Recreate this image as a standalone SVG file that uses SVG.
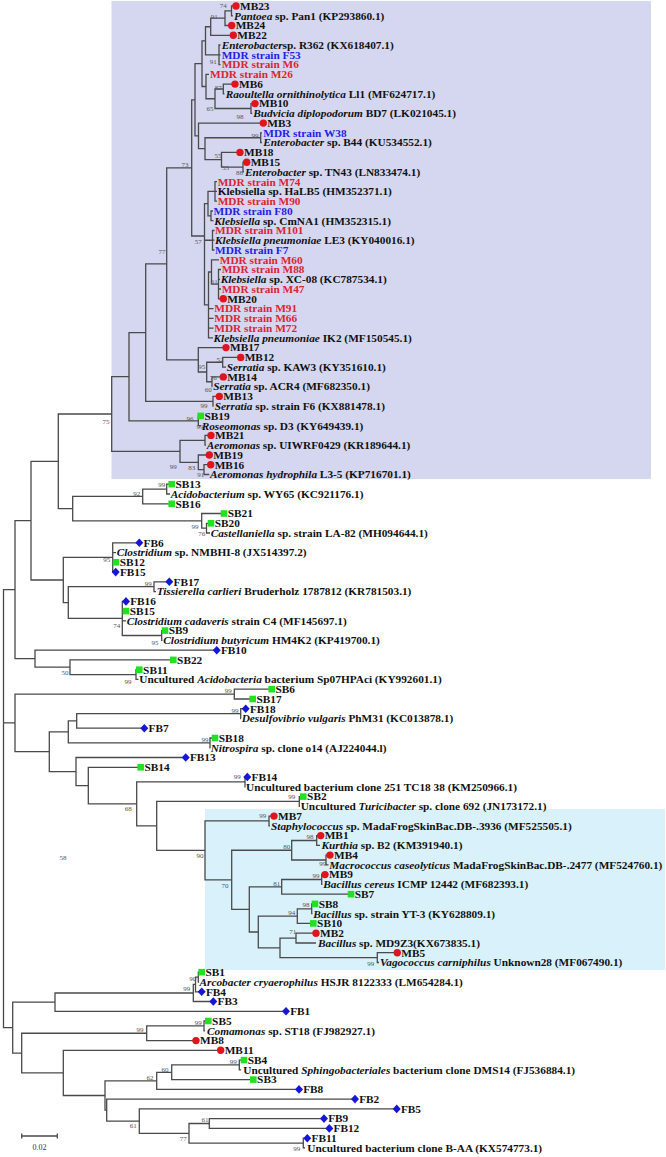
<svg xmlns="http://www.w3.org/2000/svg" xmlns:xlink="http://www.w3.org/1999/xlink" width="666" height="1157" viewBox="0 0 666 1157">
<style>
.t{font-family:"Liberation Serif","Times New Roman",serif;font-weight:bold;font-size:11.3px;fill:#111}
.i{font-style:italic}
.r{fill:#de2332}
.b{fill:#1e1ee6}
.bs{font-family:"Liberation Serif","Times New Roman",serif;font-size:7px;fill:#555;text-anchor:middle}
.e{fill:none;stroke:#4a4a4a;stroke-width:1.3}
.mc{fill:#e1141e}
.ms{fill:#22e022}
.md{fill:#1616d6}
</style>
<defs>
<circle id="c" r="3.7"/>
<rect id="s" x="-3.3" y="-3.3" width="6.6" height="6.6"/>
<path id="d" d="M0,-4.3 L4,0 0,4.3 -4,0Z"/>
</defs>
<rect x="0" y="0" width="666" height="1157" fill="#fff"/>
<g id="highlight-enterobacteria"><rect x="111.5" y="1" width="539.5" height="478" fill="#d5d7f0"/></g>
<g id="highlight-firmicutes"><rect x="205" y="809" width="460" height="161" fill="#d9f1fa"/></g>
<g id="connectors" class="e">
<path d="M236,6 H231.5 V15.8 H233"/>
<path d="M231.5,10.9 H225 V25.5 H231.7"/>
<path d="M225,18.2 H210.7 V35.3 H233.3"/>
<path d="M220.5,45 H219 V64.6 H220.5 M219,54.8 H220.5"/>
<path d="M210.7,26.75 H205.5 V54.8 H219"/>
<path d="M235,84.1 H223.3 V93.8 H224.5"/>
<path d="M255,103.6 H251 V113.4 H252.3"/>
<path d="M223.3,89 H215 V108.5 H251"/>
<path d="M209,74.3 H206 V98.75 H215"/>
<path d="M205.5,40.8 H202 V86.5 H206"/>
<path d="M262,132.9 H260.7 V142.6 H262"/>
<path d="M246.7,162.2 H243 V171.9 H244"/>
<path d="M240,152.4 H221.5 V167.05 H243"/>
<path d="M260.7,137.75 H205 V159.7 H221.5"/>
<path d="M263.3,123.1 H198.5 V148.7 H205"/>
<path d="M202,63.65 H195 V135.9 H198.5"/>
<path d="M217,181.7 H215 V201.2 H217 M215,191.4 H217"/>
<path d="M213,211 H211 V220.7 H213.5"/>
<path d="M215,191.45 H208 V215.85 H211"/>
<path d="M214.5,230.5 H212.5 V250 H214.5 M212.5,240.2 H214.5"/>
<path d="M221,269.5 H218.5 V298.8 H223.3 M218.5,279.3 H220 M218.5,289 H221"/>
<path d="M219,259.8 H211.5 V284.15 H218.5"/>
<path d="M211.5,271.98 H208.5 V337.8 H213 M208.5,308.6 H213.5 M208.5,318.3 H213.5 M208.5,328.1 H213.5"/>
<path d="M208,203.65 H204.5 V304.9 H208.5 M204.5,240.25 H212.5"/>
<path d="M195,99.8 H191.7 V236 H204.5"/>
<path d="M240.7,357.4 H222.7 V367.1 H226"/>
<path d="M223.3,376.9 H212 V386.6 H212.5"/>
<path d="M222.7,362.25 H206.7 V381.75 H212"/>
<path d="M226,347.6 H198.3 V372 H206.7"/>
<path d="M191.7,167.9 H166.7 V359.8 H198.3"/>
<path d="M219.3,396.4 H213 V406.2 H213.5"/>
<path d="M166.7,263.85 H145.7 V401.3 H213"/>
<path d="M200.7,415.9 H198.3 V425.7 H201"/>
<path d="M145.7,332.6 H129 V420.8 H198.3"/>
<path d="M211,435.4 H205 V445.2 H206"/>
<path d="M210.7,464.7 H204 V474.5 H209.3"/>
<path d="M209.3,455 H198.3 V469.6 H204"/>
<path d="M205,440.3 H180 V462.3 H198.3"/>
<path d="M129,376.7 H111.7 V451.3 H180"/>
<path d="M171.7,484.2 H166.7 V494 H170"/>
<path d="M166.7,489.1 H142.7 V503.8 H171.7"/>
<path d="M211,523.3 H206.5 V533 H210"/>
<path d="M224,513.5 H201.7 V528.15 H206.5"/>
<path d="M142.7,496.45 H72.7 V520.8 H201.7"/>
<path d="M111.7,414 H58.3 V508.6 H72.7"/>
<path d="M139.3,542.8 H112.7 V572.1 H115.7 M112.7,552.6 H116 M112.7,562.3 H116"/>
<path d="M169.3,581.8 H154 V591.6 H156"/>
<path d="M165,630.6 H161.7 V640.4 H162.5"/>
<path d="M126,601.4 H122.3 V635.5 H161.7 M122.3,611.1 H126 M122.3,620.9 H126"/>
<path d="M154,586.7 H68.3 V618.45 H122.3"/>
<path d="M112.7,557.45 H63.3 V602.6 H68.3"/>
<path d="M58.3,461.3 H31 V580 H63.3"/>
<path d="M139.3,669.7 H136 V679.4 H138.5"/>
<path d="M173.3,659.9 H70 V674.55 H136"/>
<path d="M216.7,650.2 H35 V667.2 H70"/>
<path d="M31,520.65 H15 V658.7 H35"/>
<path d="M271.7,689.2 H234.3 V699 H252.7"/>
<path d="M245.7,708.7 H240.7 V718.5 H241"/>
<path d="M240.7,713.6 H76.7 V728.2 H144.3"/>
<path d="M215,738 H210 V747.8 H210.5"/>
<path d="M76.7,720.9 H68.3 V742.9 H210"/>
<path d="M247.3,777 H245 V786.8 H245.5"/>
<path d="M303.3,796.6 H299.3 V806.3 H300"/>
<path d="M274,816.1 H269 V825.8 H270"/>
<path d="M320.7,835.6 H316.7 V845.4 H320"/>
<path d="M330,855.1 H326 V864.9 H328.5"/>
<path d="M316.7,840.5 H291.7 V860 H326"/>
<path d="M325,874.6 H321.7 V884.4 H322.5"/>
<path d="M321.7,879.5 H281.7 V894.2 H351"/>
<path d="M315,903.9 H311.7 V913.7 H312.5"/>
<path d="M311.7,908.8 H297.3 V923.4 H313.3"/>
<path d="M316,933.2 H296 V943 H316"/>
<path d="M397.3,952.7 H377.3 V962.5 H379"/>
<path d="M296,938.1 H280 V957.6 H377.3"/>
<path d="M297.3,916.1 H258.3 V947.85 H280"/>
<path d="M281.7,886.85 H249.3 V931.98 H258.3"/>
<path d="M291.7,850.25 H231.7 V909.4 H249.3"/>
<path d="M269,820.95 H205 V879.8 H231.7"/>
<path d="M299.3,801.45 H156.7 V850.4 H205"/>
<path d="M245,781.9 H136.7 V825.9 H156.7"/>
<path d="M140.7,767.3 H88.3 V803.9 H136.7"/>
<path d="M185.7,757.5 H76 V785.6 H88.3"/>
<path d="M68.3,731.9 H49.3 V771.55 H76"/>
<path d="M234.3,694.1 H15 V751.7 H49.3"/>
<path d="M201.7,972.2 H198.3 V982 H199"/>
<path d="M198.3,977.1 H195.5 V991.8 H201.7"/>
<path d="M195.5,984.45 H193.3 V1001.5 H213.3"/>
<path d="M193.3,992.98 H55 V1011.3 H286"/>
<path d="M208.3,1021 H204 V1030.8 H205"/>
<path d="M204,1025.9 H146.7 V1040.6 H196"/>
<path d="M244,1060.1 H239.3 V1069.8 H241"/>
<path d="M239.3,1064.95 H171.7 V1079.6 H253.3"/>
<path d="M171.7,1072.3 H156.7 V1089.4 H299"/>
<path d="M324,1118.6 H209.3 V1128.4 H329.3"/>
<path d="M307.3,1138.2 H303.3 V1147.9 H305"/>
<path d="M209.3,1123.5 H189 V1143.05 H303.3"/>
<path d="M396.7,1108.9 H139.3 V1133.3 H189"/>
<path d="M355,1099.1 H106.7 V1121.1 H139.3"/>
<path d="M156.7,1080.85 H105 V1110.1 H106.7"/>
<path d="M220.7,1050.3 H63.3 V1095.5 H105"/>
<path d="M146.7,1033.25 H21.7 V1072.9 H63.3"/>
<path d="M55,1002.1 H12.7 V1053.1 H21.7"/>
<path d="M15,589.7 H3.5 V1027.6 H12.7 M3.5,722.9 H15"/>
</g>
<g id="bootstrap" class="bs">
<text x="223.3" y="8.4">74</text><text x="214.3" y="19.1">91</text><text x="213.3" y="64.1">91</text>
<text x="218.3" y="89.7">87</text><text x="210" y="110.7">65</text><text x="240" y="119.1">98</text>
<text x="255" y="138.1">99</text><text x="218" y="158.1">55</text><text x="225.5" y="170.1">55</text><text x="239.5" y="175.1">88</text>
<text x="185" y="167.4">73</text><text x="198.3" y="244.1">57</text><text x="214.3" y="284.1">61</text>
<text x="162" y="254.4">77</text><text x="220" y="362.4">52</text><text x="201.7" y="369.1">95</text>
<text x="213.3" y="380.1">76</text><text x="208.3" y="392.4">60</text><text x="204" y="408">99</text>
<text x="190" y="420.7">96</text><text x="200" y="429.1">99</text><text x="191.7" y="470.1">83</text>
<text x="200.7" y="476.7">91</text><text x="173.3" y="469.1">99</text><text x="106" y="424.1">75</text>
<text x="161.7" y="487.4">99</text><text x="136.7" y="496.4">92</text><text x="195" y="529.1">99</text>
<text x="201.7" y="536.4">76</text><text x="106.7" y="562.4">95</text><text x="148.3" y="586.4">99</text>
<text x="116.7" y="627.7">74</text><text x="155" y="645.1">95</text><text x="65" y="675.4">50</text>
<text x="128" y="684.1">99</text><text x="228.3" y="693.1">99</text><text x="235" y="713.1">99</text>
<text x="205" y="741.7">99</text><text x="237.3" y="779.1">99</text><text x="128.3" y="810.7">68</text>
<text x="63" y="860.4">58</text><text x="291.7" y="799.1">99</text><text x="262.7" y="818.4">99</text>
<text x="310" y="839.1">98</text><text x="286.7" y="849.1">80</text><text x="322.7" y="866.4">99</text>
<text x="200" y="858.4">90</text><text x="316" y="878.4">99</text><text x="276.7" y="886.4">81</text>
<text x="225" y="888.4">70</text><text x="306" y="907.4">98</text><text x="291.7" y="915.1">94</text>
<text x="292.7" y="934.1">71</text><text x="370.7" y="965.7">99</text><text x="192.7" y="981.1">90</text>
<text x="186.7" y="990.7">99</text><text x="198.3" y="1025.1">99</text><text x="140" y="1031.7">99</text>
<text x="233.3" y="1064.1">99</text><text x="165" y="1071.7">60</text><text x="150" y="1079.7">62</text>
<text x="205" y="1121.7">61</text><text x="133.3" y="1128.4">61</text><text x="183.3" y="1140.7">77</text>
<text x="296.7" y="1150.7">99</text>
</g>
<g id="scale-bar">
<path class="e" d="M21.7,1136 H57.3 M21.7,1133.5 V1138.5 M57.3,1133.5 V1138.5"/>
<text x="39.5" y="1149.5" style="font-family:'Liberation Serif',serif;font-size:8px;fill:#333;text-anchor:middle">0.02</text>
</g>
<g id="MB23"><use href="#c" class="mc" x="236" y="6"/><text class="t" x="240" y="9.8">MB23</text></g>
<g id="Pantoea"><text class="t" x="234" y="19.6"><tspan class="i">Pantoea</tspan> sp. Pan1 (KP293860.1)</text></g>
<g id="MB24"><use href="#c" class="mc" x="231.7" y="25.5"/><text class="t" x="235.7" y="29.3">MB24</text></g>
<g id="MB22"><use href="#c" class="mc" x="233.3" y="35.3"/><text class="t" x="237.3" y="39.1">MB22</text></g>
<g id="Enterobacter-R362"><text class="t" x="221.7" y="48.8"><tspan class="i">Enterobacter</tspan>sp. R362 (KX618407.1)</text></g>
<g id="F53"><text class="t b" x="221.7" y="58.6">MDR strain F53</text></g>
<g id="M6"><text class="t r" x="221.7" y="68.4">MDR strain M6</text></g>
<g id="M26"><text class="t r" x="210" y="78.1">MDR strain M26</text></g>
<g id="MB6"><use href="#c" class="mc" x="235" y="84.1"/><text class="t" x="239" y="87.9">MB6</text></g>
<g id="Raoultella"><text class="t" x="225.7" y="97.6"><tspan class="i">Raoultella ornithinolytica</tspan> Ll1 (MF624717.1)</text></g>
<g id="MB10"><use href="#c" class="mc" x="255" y="103.6"/><text class="t" x="259" y="107.4">MB10</text></g>
<g id="Budvicia"><text class="t" x="253.3" y="117.2"><tspan class="i">Budvicia diplopodorum</tspan> BD7 (LK021045.1)</text></g>
<g id="MB3"><use href="#c" class="mc" x="263.3" y="123.1"/><text class="t" x="267.3" y="126.9">MB3</text></g>
<g id="W38"><text class="t b" x="263.3" y="136.7">MDR strain W38</text></g>
<g id="Enterobacter-B44"><text class="t" x="263.3" y="146.4"><tspan class="i">Enterobacter</tspan> sp. B44 (KU534552.1)</text></g>
<g id="MB18"><use href="#c" class="mc" x="240" y="152.4"/><text class="t" x="244" y="156.2">MB18</text></g>
<g id="MB15"><use href="#c" class="mc" x="246.7" y="162.2"/><text class="t" x="250.7" y="166">MB15</text></g>
<g id="Enterobacter-TN43"><text class="t" x="245" y="175.7"><tspan class="i">Enterobacter</tspan> sp. TN43 (LN833474.1)</text></g>
<g id="M74"><text class="t r" x="217.7" y="185.5">MDR strain M74</text></g>
<g id="Klebsiella-HaLB5"><text class="t" x="217.7" y="195.2">Klebsiella sp. HaLB5 (HM352371.1)</text></g>
<g id="M90"><text class="t r" x="217.7" y="205">MDR strain M90</text></g>
<g id="F80"><text class="t b" x="213.5" y="214.8">MDR strain F80</text></g>
<g id="Klebsiella-CmNA1"><text class="t" x="214.3" y="224.5"><tspan class="i">Klebsiella</tspan> sp. CmNA1 (HM352315.1)</text></g>
<g id="M101"><text class="t r" x="215" y="234.3">MDR strain M101</text></g>
<g id="Klebsiella-LE3"><text class="t" x="215" y="244"><tspan class="i">Klebsiella pneumoniae</tspan> LE3 (KY040016.1)</text></g>
<g id="F7"><text class="t b" x="215" y="253.8">MDR strain F7</text></g>
<g id="M60"><text class="t r" x="219.8" y="263.6">MDR strain M60</text></g>
<g id="M88"><text class="t r" x="221.7" y="273.3">MDR strain M88</text></g>
<g id="Klebsiella-XC08"><text class="t" x="220.7" y="283.1"><tspan class="i">Klebsiella</tspan> sp. XC-08 (KC787534.1)</text></g>
<g id="M47"><text class="t r" x="221.7" y="292.8">MDR strain M47</text></g>
<g id="MB20"><use href="#c" class="mc" x="223.3" y="298.8"/><text class="t" x="227.3" y="302.6">MB20</text></g>
<g id="M91"><text class="t r" x="214.3" y="312.4">MDR strain M91</text></g>
<g id="M66"><text class="t r" x="214.3" y="322.1">MDR strain M66</text></g>
<g id="M72"><text class="t r" x="214.3" y="331.9">MDR strain M72</text></g>
<g id="Klebsiella-IK2"><text class="t" x="213.5" y="341.6"><tspan class="i">Klebsiella pneumoniae</tspan> IK2 (MF150545.1)</text></g>
<g id="MB17"><use href="#c" class="mc" x="226" y="347.6"/><text class="t" x="230" y="351.4">MB17</text></g>
<g id="MB12"><use href="#c" class="mc" x="240.7" y="357.4"/><text class="t" x="244.7" y="361.2">MB12</text></g>
<g id="Serratia-KAW3"><text class="t" x="226.7" y="370.9"><tspan class="i">Serratia</tspan> sp. KAW3 (KY351610.1)</text></g>
<g id="MB14"><use href="#c" class="mc" x="223.3" y="376.9"/><text class="t" x="227.3" y="380.7">MB14</text></g>
<g id="Serratia-ACR4"><text class="t" x="213.3" y="390.4"><tspan class="i">Serratia</tspan> sp. ACR4 (MF682350.1)</text></g>
<g id="MB13"><use href="#c" class="mc" x="219.3" y="396.4"/><text class="t" x="223.3" y="400.2">MB13</text></g>
<g id="Serratia-F6"><text class="t" x="214.8" y="410"><tspan class="i">Serratia</tspan> sp. strain F6 (KX881478.1)</text></g>
<g id="SB19"><use href="#s" class="ms" x="200.7" y="415.9"/><text class="t" x="204.5" y="419.7">SB19</text></g>
<g id="Roseomonas"><text class="t" x="201.7" y="429.5"><tspan class="i">Roseomonas</tspan> sp. D3 (KY649439.1)</text></g>
<g id="MB21"><use href="#c" class="mc" x="211" y="435.4"/><text class="t" x="215" y="439.2">MB21</text></g>
<g id="Aeromonas-UIWRF0429"><text class="t" x="206.7" y="449"><tspan class="i">Aeromonas</tspan> sp. UIWRF0429 (KR189644.1)</text></g>
<g id="MB19"><use href="#c" class="mc" x="209.3" y="455"/><text class="t" x="213.3" y="458.8">MB19</text></g>
<g id="MB16"><use href="#c" class="mc" x="210.7" y="464.7"/><text class="t" x="214.7" y="468.5">MB16</text></g>
<g id="Aeromonas-hydrophila"><text class="t" x="210" y="478.3"><tspan class="i">Aeromonas hydrophila</tspan> L3-5 (KP716701.1)</text></g>
<g id="SB13"><use href="#s" class="ms" x="171.7" y="484.2"/><text class="t" x="175.5" y="488">SB13</text></g>
<g id="Acidobacterium"><text class="t" x="170.7" y="497.8"><tspan class="i">Acidobacterium</tspan> sp. WY65 (KC921176.1)</text></g>
<g id="SB16"><use href="#s" class="ms" x="171.7" y="503.8"/><text class="t" x="175.5" y="507.6">SB16</text></g>
<g id="SB21"><use href="#s" class="ms" x="224" y="513.5"/><text class="t" x="227.8" y="517.3">SB21</text></g>
<g id="SB20"><use href="#s" class="ms" x="211" y="523.3"/><text class="t" x="214.8" y="527.1">SB20</text></g>
<g id="Castellaniella"><text class="t" x="210.7" y="536.8"><tspan class="i">Castellaniella</tspan> sp. strain LA-82 (MH094644.1)</text></g>
<g id="FB6"><use href="#d" class="md" x="139.3" y="542.8"/><text class="t" x="143.5" y="546.6">FB6</text></g>
<g id="Clostridium-NMBHI8"><text class="t" x="116.7" y="556.4"><tspan class="i">Clostridium</tspan> sp. NMBHI-8 (JX514397.2)</text></g>
<g id="SB12"><use href="#s" class="ms" x="116" y="562.3"/><text class="t" x="119.8" y="566.1">SB12</text></g>
<g id="FB15"><use href="#d" class="md" x="115.7" y="572.1"/><text class="t" x="119.9" y="575.9">FB15</text></g>
<g id="FB17"><use href="#d" class="md" x="169.3" y="581.8"/><text class="t" x="173.5" y="585.6">FB17</text></g>
<g id="Tissierella"><text class="t" x="156.7" y="595.4"><tspan class="i">Tissierella carlieri</tspan> Bruderholz 1787812 (KR781503.1)</text></g>
<g id="FB16"><use href="#d" class="md" x="126" y="601.4"/><text class="t" x="130.2" y="605.2">FB16</text></g>
<g id="SB15"><use href="#s" class="ms" x="126" y="611.1"/><text class="t" x="129.8" y="614.9">SB15</text></g>
<g id="Clostridium-cadaveris"><text class="t" x="126.7" y="624.7"><tspan class="i">Clostridium cadaveris</tspan> strain C4 (MF145697.1)</text></g>
<g id="SB9"><use href="#s" class="ms" x="165" y="630.6"/><text class="t" x="168.8" y="634.4">SB9</text></g>
<g id="Clostridium-butyricum"><text class="t" x="163.3" y="644.2"><tspan class="i">Clostridium butyricum</tspan> HM4K2 (KP419700.1)</text></g>
<g id="FB10"><use href="#d" class="md" x="216.7" y="650.2"/><text class="t" x="220.9" y="654">FB10</text></g>
<g id="SB22"><use href="#s" class="ms" x="173.3" y="659.9"/><text class="t" x="177.1" y="663.7">SB22</text></g>
<g id="SB11"><use href="#s" class="ms" x="139.3" y="669.7"/><text class="t" x="143.1" y="673.5">SB11</text></g>
<g id="Uncultured-Acidobacteria"><text class="t" x="139.3" y="683.2">Uncultured <tspan class="i">Acidobacteria</tspan> bacterium Sp07HPAci (KY992601.1)</text></g>
<g id="SB6"><use href="#s" class="ms" x="271.7" y="689.2"/><text class="t" x="275.5" y="693">SB6</text></g>
<g id="SB17"><use href="#s" class="ms" x="252.7" y="699"/><text class="t" x="256.5" y="702.8">SB17</text></g>
<g id="FB18"><use href="#d" class="md" x="245.7" y="708.7"/><text class="t" x="249.9" y="712.5">FB18</text></g>
<g id="Desulfovibrio"><text class="t" x="241.7" y="722.3"><tspan class="i">Desulfovibrio vulgaris</tspan> PhM31 (KC013878.1)</text></g>
<g id="FB7"><use href="#d" class="md" x="144.3" y="728.2"/><text class="t" x="148.5" y="732">FB7</text></g>
<g id="SB18"><use href="#s" class="ms" x="215" y="738"/><text class="t" x="218.8" y="741.8">SB18</text></g>
<g id="Nitrospira"><text class="t" x="210.7" y="751.6"><tspan class="i">Nitrospira</tspan> sp. clone o14 (AJ224044.l)</text></g>
<g id="FB13"><use href="#d" class="md" x="185.7" y="757.5"/><text class="t" x="189.9" y="761.3">FB13</text></g>
<g id="SB14"><use href="#s" class="ms" x="140.7" y="767.3"/><text class="t" x="144.5" y="771.1">SB14</text></g>
<g id="FB14"><use href="#d" class="md" x="247.3" y="777"/><text class="t" x="251.5" y="780.8">FB14</text></g>
<g id="Uncultured-clone-251"><text class="t" x="246" y="790.6">Uncultured bacterium clone 251 TC18 38 (KM250966.1)</text></g>
<g id="SB2"><use href="#s" class="ms" x="303.3" y="796.6"/><text class="t" x="307.1" y="800.4">SB2</text></g>
<g id="Turicibacter"><text class="t" x="300.7" y="810.1">Uncultured <tspan class="i">Turicibacter</tspan> sp. clone 692 (JN173172.1)</text></g>
<g id="MB7"><use href="#c" class="mc" x="274" y="816.1"/><text class="t" x="278" y="819.9">MB7</text></g>
<g id="Staphylococcus"><text class="t" x="271" y="829.6"><tspan class="i">Staphylococcus</tspan> sp. MadaFrogSkinBac.DB-.3936 (MF525505.1)</text></g>
<g id="MB1"><use href="#c" class="mc" x="320.7" y="835.6"/><text class="t" x="324.7" y="839.4">MB1</text></g>
<g id="Kurthia"><text class="t" x="321.5" y="849.2"><tspan class="i">Kurthia</tspan> sp. B2 (KM391940.1)</text></g>
<g id="MB4"><use href="#c" class="mc" x="330" y="855.1"/><text class="t" x="334" y="858.9">MB4</text></g>
<g id="Macrococcus"><text class="t" x="329.3" y="868.7"><tspan class="i">Macrococcus caseolyticus</tspan> MadaFrogSkinBac.DB-.2477 (MF524760.1)</text></g>
<g id="MB9"><use href="#c" class="mc" x="325" y="874.6"/><text class="t" x="329" y="878.4">MB9</text></g>
<g id="Bacillus-cereus"><text class="t" x="323.3" y="888.2"><tspan class="i">Bacillus cereus</tspan> ICMP 12442 (MF682393.1)</text></g>
<g id="SB7"><use href="#s" class="ms" x="351" y="894.2"/><text class="t" x="354.8" y="898">SB7</text></g>
<g id="SB8"><use href="#s" class="ms" x="315" y="903.9"/><text class="t" x="318.8" y="907.7">SB8</text></g>
<g id="Bacillus-YT3"><text class="t" x="313.3" y="917.5"><tspan class="i">Bacillus</tspan> sp. strain YT-3 (KY628809.1)</text></g>
<g id="SB10"><use href="#s" class="ms" x="313.3" y="923.4"/><text class="t" x="317.1" y="927.2">SB10</text></g>
<g id="MB2"><use href="#c" class="mc" x="316" y="933.2"/><text class="t" x="320" y="937">MB2</text></g>
<g id="Bacillus-MD9Z3"><text class="t" x="318" y="946.8"><tspan class="i">Bacillus</tspan> sp. MD9Z3(KX673835.1)</text></g>
<g id="MB5"><use href="#c" class="mc" x="397.3" y="952.7"/><text class="t" x="401.3" y="956.5">MB5</text></g>
<g id="Vagococcus"><text class="t" x="380" y="966.3"><tspan class="i">Vagococcus carniphilus</tspan> Unknown28 (MF067490.1)</text></g>
<g id="SB1"><use href="#s" class="ms" x="201.7" y="972.2"/><text class="t" x="205.5" y="976">SB1</text></g>
<g id="Arcobacter"><text class="t" x="199.5" y="985.8"><tspan class="i">Arcobacter cryaerophilus</tspan> HSJR 8122333 (LM654284.1)</text></g>
<g id="FB4"><use href="#d" class="md" x="201.7" y="991.8"/><text class="t" x="205.9" y="995.6">FB4</text></g>
<g id="FB3"><use href="#d" class="md" x="213.3" y="1001.5"/><text class="t" x="217.5" y="1005.3">FB3</text></g>
<g id="FB1"><use href="#d" class="md" x="286" y="1011.3"/><text class="t" x="290.2" y="1015.1">FB1</text></g>
<g id="SB5"><use href="#s" class="ms" x="208.3" y="1021"/><text class="t" x="212.1" y="1024.8">SB5</text></g>
<g id="Comamonas"><text class="t" x="207" y="1034.6"><tspan class="i">Comamonas</tspan> sp. ST18 (FJ982927.1)</text></g>
<g id="MB8"><use href="#c" class="mc" x="196" y="1040.6"/><text class="t" x="200" y="1044.4">MB8</text></g>
<g id="MB11"><use href="#c" class="mc" x="220.7" y="1050.3"/><text class="t" x="224.7" y="1054.1">MB11</text></g>
<g id="SB4"><use href="#s" class="ms" x="244" y="1060.1"/><text class="t" x="247.8" y="1063.9">SB4</text></g>
<g id="Sphingobacteriales"><text class="t" x="243.3" y="1073.6">Uncultured <tspan class="i">Sphingobacteriales</tspan> bacterium clone DMS14 (FJ536884.1)</text></g>
<g id="SB3"><use href="#s" class="ms" x="253.3" y="1079.6"/><text class="t" x="257.1" y="1083.4">SB3</text></g>
<g id="FB8"><use href="#d" class="md" x="299" y="1089.4"/><text class="t" x="303.2" y="1093.2">FB8</text></g>
<g id="FB2"><use href="#d" class="md" x="355" y="1099.1"/><text class="t" x="359.2" y="1102.9">FB2</text></g>
<g id="FB5"><use href="#d" class="md" x="396.7" y="1108.9"/><text class="t" x="400.9" y="1112.7">FB5</text></g>
<g id="FB9"><use href="#d" class="md" x="324" y="1118.6"/><text class="t" x="328.2" y="1122.4">FB9</text></g>
<g id="FB12"><use href="#d" class="md" x="329.3" y="1128.4"/><text class="t" x="333.5" y="1132.2">FB12</text></g>
<g id="FB11"><use href="#d" class="md" x="307.3" y="1138.2"/><text class="t" x="311.5" y="1142">FB11</text></g>
<g id="Uncultured-B-AA"><text class="t" x="307.3" y="1151.7">Uncultured bacterium clone B-AA (KX574773.1)</text></g>
</svg>
